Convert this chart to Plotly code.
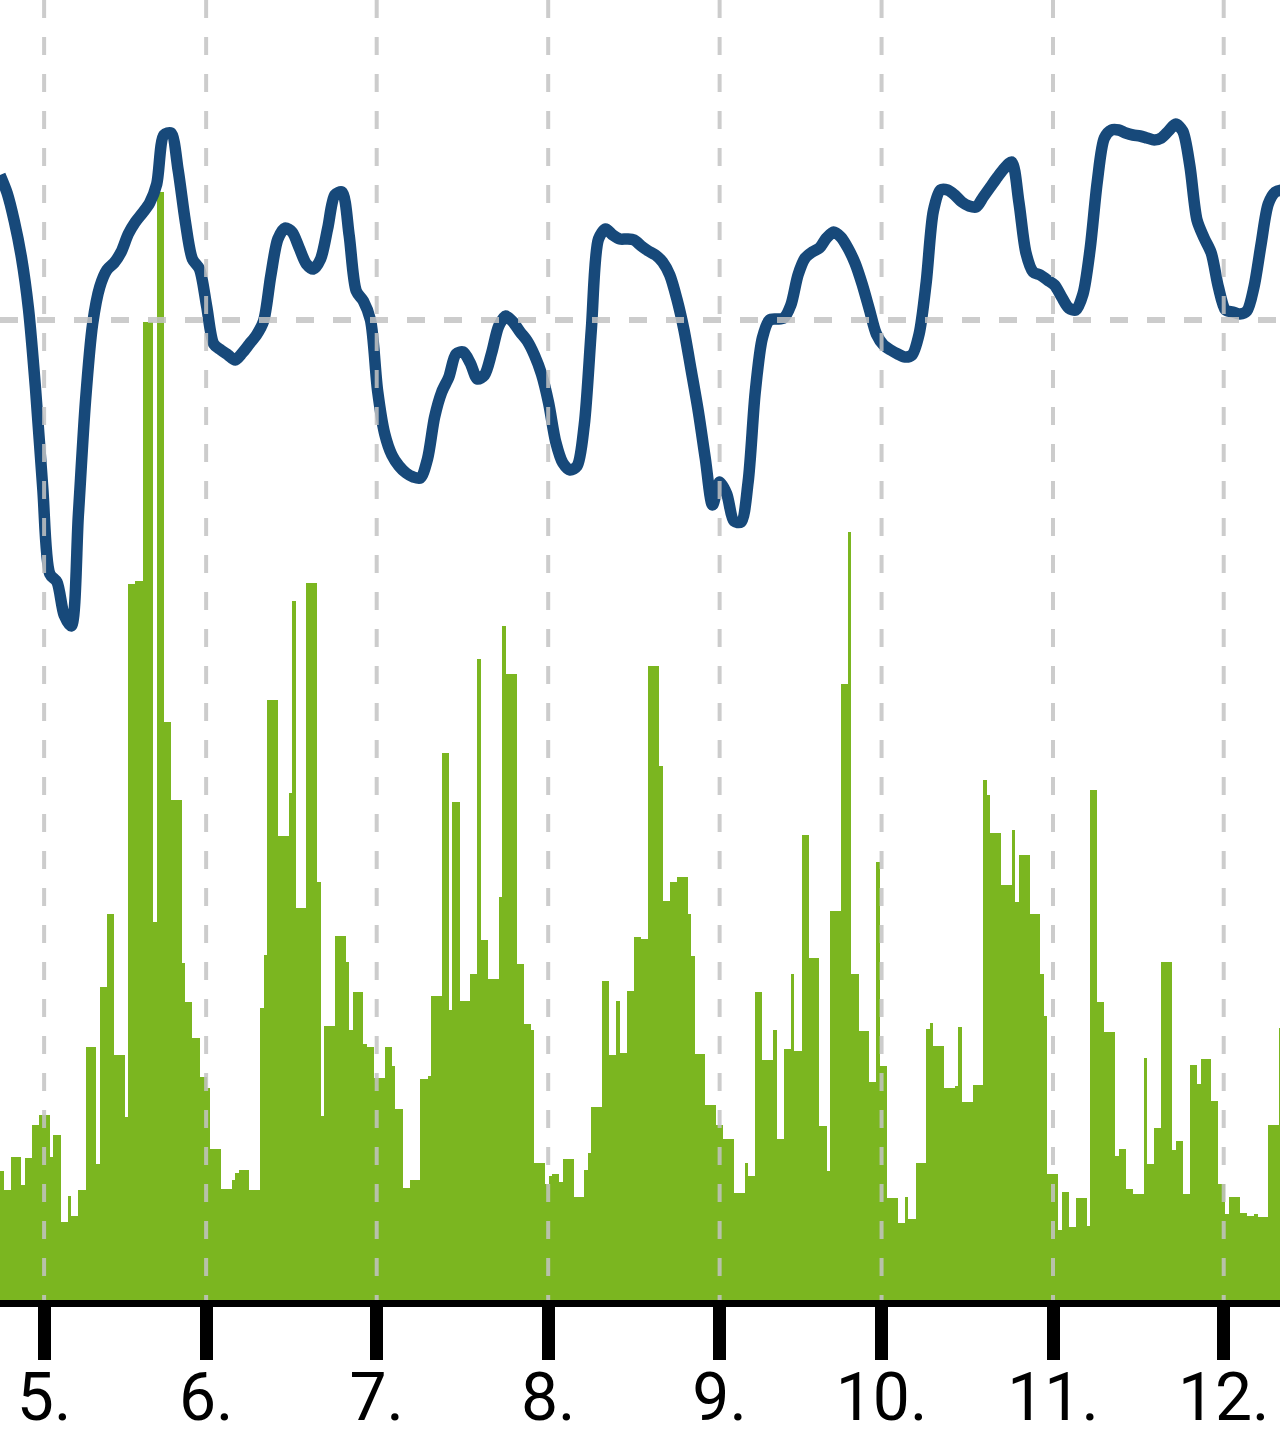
import plotly.graph_objects as go

# ---------------- data ----------------
# bar series: one value every half hour (x in hours)
bar_values = [
    12.9, 11.0, 11.0, 14.3, 14.3, 14.3, 11.5, 14.2, 14.2, 17.5, 17.5, 18.5, 18.5, 18.5, 14.3, 16.5,
    16.5, 7.8, 7.8, 10.4, 8.4, 8.4, 11.0, 11.0, 25.3, 25.3, 25.3, 13.6, 31.3, 31.3, 38.6, 38.6,
    24.5, 24.5, 24.5, 18.3, 71.6, 71.6, 71.9, 71.9, 97.8, 97.8, 97.8, 37.8, 110.8, 110.8, 57.8, 57.8,
    50.0, 50.0, 50.0, 33.7, 29.8, 29.8, 26.2, 26.2, 22.3, 22.3, 21.2, 15.1, 15.1, 15.1, 11.1, 11.1,
    11.1, 12.0, 12.7, 13.0, 13.0, 13.0, 11.0, 11.0, 11.0, 29.2, 34.5, 60.0, 60.0, 60.0, 46.4, 46.4,
    46.4, 50.7, 69.9, 39.2, 39.2, 39.2, 71.7, 71.7, 71.7, 41.8, 18.4, 27.4, 27.4, 27.4, 36.4, 36.4,
    36.4, 33.8, 27.0, 30.8, 30.8, 30.8, 25.6, 25.3, 25.3, 22.2, 22.2, 22.2, 25.3, 25.3, 23.4, 19.1,
    19.1, 11.2, 11.2, 12.0, 12.0, 12.0, 22.1, 22.1, 22.4, 30.4, 30.4, 30.4, 54.7, 54.7, 29.0, 49.8,
    49.8, 29.9, 29.9, 29.9, 32.6, 32.6, 64.1, 36.0, 36.0, 32.1, 32.1, 32.1, 40.3, 67.4, 62.6, 62.6,
    62.6, 33.6, 33.6, 27.6, 27.6, 27.0, 13.7, 13.7, 13.7, 11.6, 12.4, 12.6, 12.6, 11.8, 14.1, 14.1,
    14.1, 10.3, 10.3, 10.3, 13.0, 14.7, 19.3, 19.3, 19.3, 31.9, 31.9, 24.5, 24.5, 29.9, 24.7, 24.7,
    30.9, 30.9, 36.3, 36.3, 36.1, 36.1, 63.4, 63.4, 63.4, 53.4, 39.9, 39.9, 41.8, 41.8, 42.3, 42.3,
    42.3, 38.6, 34.4, 24.6, 24.6, 24.6, 19.5, 19.5, 19.5, 17.5, 17.5, 16.1, 16.1, 16.1, 10.7, 10.7,
    10.7, 13.7, 12.4, 12.4, 30.8, 30.8, 24.0, 24.0, 24.0, 27.0, 16.1, 16.1, 25.1, 25.1, 32.6, 24.9,
    24.9, 46.5, 46.5, 34.2, 34.2, 34.2, 17.4, 17.4, 12.9, 38.9, 38.9, 38.9, 61.6, 61.6, 76.8, 32.6,
    32.6, 26.9, 26.9, 26.9, 21.8, 21.8, 43.8, 23.4, 23.4, 10.2, 10.2, 10.2, 7.7, 7.7, 10.3, 8.1,
    8.1, 13.7, 13.7, 13.7, 27.1, 27.7, 25.4, 25.4, 25.4, 21.2, 21.2, 21.2, 21.4, 27.3, 19.8, 19.8,
    19.8, 21.5, 21.5, 21.5, 52.0, 50.5, 46.7, 46.7, 46.7, 41.5, 41.5, 41.5, 47.0, 39.8, 44.5, 44.5,
    44.5, 38.6, 38.6, 38.6, 32.6, 28.4, 12.6, 12.6, 12.6, 7.0, 10.8, 10.8, 7.3, 7.3, 10.2, 10.2,
    10.2, 7.4, 51.0, 51.0, 29.8, 29.8, 26.8, 26.8, 26.8, 14.4, 15.1, 15.1, 11.1, 11.1, 10.6, 10.6,
    10.6, 24.2, 13.6, 13.6, 17.2, 17.2, 33.8, 33.8, 33.8, 15.0, 15.9, 15.9, 10.6, 10.6, 23.5, 23.5,
    21.6, 24.1, 24.1, 24.1, 19.9, 19.9, 11.6, 11.6, 8.6, 10.3, 10.3, 10.3, 8.7, 8.7, 8.4, 8.4,
    8.6, 8.3, 8.3, 8.3, 17.5, 17.5, 17.5, 27.2,
]
bar_hours = [0.25 + 0.5 * i for i in range(len(bar_values))]

# line series: one value per hour
line_values = [
    112.5, 110.7, 107.9, 104.3, 99.1, 91.0, 81.2, 72.6, 71.8, 68.5, 67.4, 78.5, 89.9, 97.6, 101.3, 103.0,
    103.7, 104.8, 106.6, 107.8, 108.7, 109.7, 111.6, 116.5, 116.7, 113.0, 107.9, 104.1, 103.1, 99.4, 95.6, 95.0,
    94.5, 94.0, 94.7, 95.6, 96.5, 97.9, 102.4, 106.1, 107.2, 106.8, 105.2, 103.6, 103.1, 104.1, 107.2, 110.5,
    110.8, 106.5, 100.9, 99.9, 98.0, 90.9, 86.6, 84.5, 83.4, 82.7, 82.3, 82.2, 84.1, 88.3, 90.8, 92.3,
    94.6, 94.8, 93.7, 92.1, 92.5, 94.7, 97.4, 98.4, 97.8, 96.8, 95.9, 94.5, 92.6, 89.7, 85.8, 83.7,
    83.0, 83.4, 87.5, 97.1, 106.1, 107.1, 106.5, 106.1, 106.1, 106.0, 105.4, 104.9, 104.5, 103.8, 102.5, 100.1,
    97.0, 93.0, 88.9, 84.1, 79.5, 81.8, 80.6, 77.9, 77.8, 81.8, 90.8, 96.2, 98.0, 98.1, 98.2, 99.5,
    102.5, 104.2, 104.8, 105.2, 106.2, 106.8, 106.3, 105.2, 103.7, 101.6, 99.1, 96.6, 95.5, 95.0, 94.6, 94.3,
    94.5, 96.6, 101.8, 108.9, 111.0, 111.0, 110.5, 109.8, 109.4, 109.3, 110.3, 111.3, 112.3, 113.2, 113.8, 109.8,
    104.7, 102.8, 102.5, 102.0, 101.5, 100.3, 99.2, 99.0, 100.6, 105.1, 111.8, 116.2, 117.0, 117.0, 116.7, 116.5,
    116.4, 116.2, 116.0, 116.2, 116.9, 117.6, 116.9, 113.4, 108.0, 106.2, 104.7, 101.3, 99.0, 98.8, 98.6, 98.9,
    101.3, 105.6, 109.6, 110.8, 111.0,
]
line_hours = list(range(len(line_values)))

# x-axis ticks (hours) and their labels
tick_hours = [6.19, 28.93, 52.87, 76.94, 101.0, 123.73, 147.79, 171.75]
tick_labels = ["5.", "6.", "7.", "8.", "9.", "10.", "11.", "12."]

# reference level for the horizontal dashed line
ref_level = 98.0

X_RANGE = [0, 179.65]
Y_RANGE = [0, 130]

# ---------------- figure ----------------
GREEN = "#7bb620"
BLUE = "#17497a"
GRID = "rgba(195,195,195,0.85)"

fig = go.Figure()
fig.add_trace(go.Bar(
    x=bar_hours, y=bar_values, width=0.5,
    marker=dict(color=GREEN, line=dict(width=0)),
    hoverinfo="skip",
))
fig.add_trace(go.Scatter(
    x=line_hours, y=line_values, mode="lines",
    line=dict(color=BLUE, width=11.5, shape="spline", smoothing=0.8),
    hoverinfo="skip",
))

shapes = []
for t in tick_hours:
    shapes.append(dict(type="line", xref="x", yref="paper", x0=t, x1=t, y0=1, y1=0,
                       line=dict(color=GRID, width=4, dash="18px,19px"), layer="above"))
shapes.append(dict(type="line", xref="paper", yref="y", x0=0, x1=1, y0=ref_level, y1=ref_level,
                   line=dict(color=GRID, width=6, dash="18px,19px"), layer="above"))

fig.update_layout(
    width=1280, height=1442,
    margin=dict(l=0, r=0, t=0, b=142, pad=0, autoexpand=False),
    paper_bgcolor="white", plot_bgcolor="white",
    showlegend=False, bargap=0,
    shapes=shapes,
    xaxis=dict(
        range=X_RANGE, tickmode="array", tickvals=tick_hours, ticktext=tick_labels,
        ticks="outside", ticklen=53, tickwidth=13, tickcolor="black",
        showline=True, linewidth=7, linecolor="black",
        showgrid=False, zeroline=False, automargin=False,
        ticklabelstandoff=-19,
        tickfont=dict(family="Roboto", size=66, color="black"),
        fixedrange=True,
    ),
    yaxis=dict(range=Y_RANGE, visible=False, fixedrange=True, automargin=False),
)

fig.write_html(
    "out.html",
    config={"staticPlot": True, "responsive": False},
    post_script=(
        "document.body.style.margin='0';"
        "document.body.style.padding='0';"
        "document.documentElement.style.overflow='hidden';"
    ),
)
